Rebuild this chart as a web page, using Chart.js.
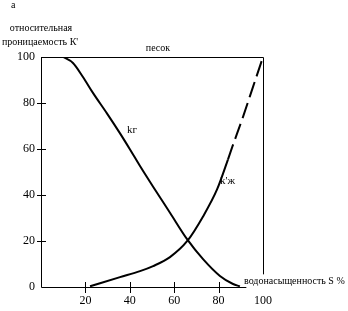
<!DOCTYPE html>
<html>
<head>
<meta charset="utf-8">
<script src="https://cdn.jsdelivr.net/npm/chart.js@4/dist/chart.umd.min.js"></script>
<style>
  html, body { margin: 0; padding: 0; background: #fff; }
  #wrap { width: 348px; height: 311px; }
</style>
</head>
<body>
<div id="wrap"><canvas id="myChart" width="348" height="311"></canvas></div>
<script>
// gas curve kг
const gasS = [10, 14.4, 18.9, 23.4, 29.7, 35.6, 40.1, 44.6, 50.5, 58.1, 65.8, 73, 80.6, 86.5, 89.6];
const gasK = [100, 97.4, 91.3, 84.4, 75.5, 66.8, 59.8, 52.6, 43.6, 32.3, 20.8, 12.1, 4.8, 1.3, 0.3];
// water curve kж
const waterS = [22.1, 35.6, 44.6, 50.5, 58.1, 65.8, 73, 79.3, 84.2, 86.2, 91, 95.5, 100];
const waterK = [0.3, 4.3, 6.9, 9.1, 13, 19.9, 30.7, 42.4, 55.4, 61, 74, 87, 100];

const xTicks = [20, 40, 60, 80, 100];
const yTicks = [0, 20, 40, 60, 80, 100];
const tickMarksX = [20, 40, 60, 80];
const tickMarksY = [20, 40, 60, 80];

function pts(xs, ys) {
  return xs.map(function (v, i) { return { x: v, y: ys[i] }; });
}

Chart.defaults.font.family = "'Liberation Serif', 'DejaVu Serif', serif";
Chart.defaults.font.size = 12;
Chart.defaults.color = "#000";

const framePlugin = {
  id: "frame",
  afterDraw: function (chart) {
    const ctx = chart.ctx;
    const a = chart.chartArea;
    const xs = chart.scales.x;
    const ys = chart.scales.y;
    ctx.save();
    ctx.strokeStyle = "#000";
    ctx.lineWidth = 1;
    ctx.beginPath();
    // left axis and bottom axis
    ctx.moveTo(a.left + 0.5, a.top);
    ctx.lineTo(a.left + 0.5, a.bottom + 0.5);
    ctx.lineTo(xs.getPixelForValue(92.5), a.bottom + 0.5);
    // top and right border
    ctx.moveTo(a.left, a.top + 0.5);
    ctx.lineTo(a.right + 0.5, a.top + 0.5);
    ctx.lineTo(a.right + 0.5, ys.getPixelForValue(5.5));
    tickMarksY.forEach(function (v) {
      const py = Math.round(ys.getPixelForValue(v)) + 0.5;
      ctx.moveTo(a.left - 4, py);
      ctx.lineTo(a.left + 5, py);
    });
    tickMarksX.forEach(function (v) {
      const px = Math.round(xs.getPixelForValue(v)) + 0.5;
      ctx.moveTo(px, a.bottom - 5);
      ctx.lineTo(px, a.bottom + 6);
    });
    ctx.stroke();

    ctx.fillStyle = "#000";
    ctx.font = "10px 'Liberation Serif', serif";
    ctx.textBaseline = "middle";
    ctx.textAlign = "left";
    ctx.fillText("а", 11, 5);
    ctx.textAlign = "center";
    ctx.fillText("относительная", 41, 28);
    ctx.fillText("проницаемость К'", 40, 42);
    ctx.fillText("песок", 158, 48);
    ctx.textAlign = "left";
    ctx.fillText("водонасыщенность S %", 244, 281);
    ctx.font = "11px 'Liberation Serif', serif";
    ctx.textAlign = "center";
    ctx.fillText("kг", xs.getPixelForValue(41), ys.getPixelForValue(68));
    ctx.fillText("k'ж", xs.getPixelForValue(84), ys.getPixelForValue(46));
    ctx.restore();
  }
};

new Chart("myChart", {
  type: "line",
  data: {
    datasets: [
      {
        data: pts(gasS, gasK),
        borderColor: "#000",
        borderWidth: 2,
        pointRadius: 0,
        cubicInterpolationMode: "monotone",
        fill: false
      },
      {
        data: pts(waterS, waterK),
        borderColor: "#000",
        borderWidth: 2,
        pointRadius: 0,
        cubicInterpolationMode: "monotone",
        fill: false,
        segment: {
          borderDash: function (c) { return c.p0.parsed.x >= 84 ? [16, 6] : undefined; }
        }
      }
    ]
  },
  options: {
    responsive: false,
    animation: false,
    layout: { padding: { left: 0, top: 57, right: 85, bottom: 0 } },
    plugins: { legend: { display: false }, tooltip: { enabled: false } },
    scales: {
      x: {
        type: "linear",
        min: 0,
        max: 100,
        afterBuildTicks: function (s) { s.ticks = xTicks.map(function (v) { return { value: v }; }); },
        afterFit: function (s) { s.height = 24; },
        grid: { display: false, drawTicks: false },
        border: { display: false },
        ticks: { padding: 7, maxRotation: 0 }
      },
      y: {
        type: "linear",
        min: 0,
        max: 100,
        afterBuildTicks: function (s) { s.ticks = yTicks.map(function (v) { return { value: v }; }); },
        afterFit: function (s) { s.width = 41; },
        grid: { display: false, drawTicks: false },
        border: { display: false },
        ticks: { padding: 6 }
      }
    }
  },
  plugins: [framePlugin]
});
</script>
</body>
</html>
